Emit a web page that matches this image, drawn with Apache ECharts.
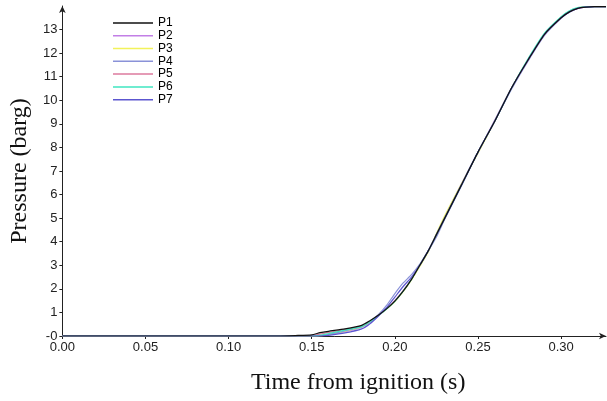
<!DOCTYPE html>
<html>
<head>
<meta charset="utf-8">
<script src="https://cdn.jsdelivr.net/npm/echarts@6/dist/echarts.min.js"></script>
<style>
	html, body {margin: 0; padding: 0; background: #fff;}
	#main {width: 607px; height: 401px;}
</style>
</head>
<body>
<div id="main"></div>
<script>
// time from ignition (s)
var times = [0, 0.13, 0.14, 0.15, 0.155, 0.16, 0.17, 0.18, 0.185, 0.19, 0.195, 0.2, 0.205, 0.21, 0.215, 0.22, 0.225, 0.23, 0.24, 0.25, 0.26, 0.27, 0.28, 0.29, 0.3, 0.305, 0.31, 0.315, 0.32, 0.327]
// pressure (barg) per sensor
var p1 = [0, 0, 0.02, 0.05, 0.14, 0.2, 0.3, 0.45, 0.65, 0.88, 1.15, 1.48, 1.9, 2.4, 3.0, 3.6, 4.3, 5.0, 6.4, 7.8, 9.1, 10.5, 11.7, 12.8, 13.5, 13.75, 13.9, 13.95, 13.97, 13.97]
var p2 = [0, 0, 0, 0, 0.01, 0.05, 0.18, 0.36, 0.58, 0.86, 1.15, 1.5, 1.92, 2.42, 3.0, 3.62, 4.3, 5.05, 6.45, 7.8, 9.15, 10.5, 11.7, 12.8, 13.5, 13.76, 13.9, 13.95, 13.97, 13.97]
var p3 = [0, 0, 0, 0, 0.01, 0.06, 0.2, 0.38, 0.6, 0.86, 1.14, 1.46, 1.88, 2.38, 2.95, 3.55, 4.35, 5.1, 6.45, 7.75, 9.1, 10.5, 11.72, 12.82, 13.52, 13.78, 13.92, 13.96, 13.97, 13.97]
var p4 = [0, 0, 0, 0, 0.01, 0.07, 0.22, 0.4, 0.62, 0.9, 1.3, 1.8, 2.25, 2.6, 3.05, 3.6, 4.2, 4.95, 6.35, 7.8, 9.1, 10.45, 11.65, 12.75, 13.48, 13.74, 13.9, 13.95, 13.97, 13.97]
var p5 = [0, 0, 0, 0.02, 0.08, 0.15, 0.27, 0.42, 0.62, 0.87, 1.15, 1.5, 1.92, 2.42, 3.0, 3.6, 4.3, 5.0, 6.4, 7.8, 9.1, 10.5, 11.7, 12.8, 13.5, 13.76, 13.9, 13.95, 13.97, 13.97]
var p6 = [0, 0, 0, 0, 0.03, 0.1, 0.25, 0.4, 0.6, 0.86, 1.14, 1.47, 1.9, 2.4, 3.0, 3.6, 4.3, 5.0, 6.4, 7.8, 9.1, 10.5, 11.75, 12.85, 13.55, 13.8, 13.93, 13.96, 13.97, 13.97]
var p7 = [0, 0, 0, 0, 0, 0.03, 0.13, 0.3, 0.52, 0.84, 1.2, 1.65, 2.1, 2.5, 3.0, 3.6, 4.3, 5.0, 6.4, 7.8, 9.1, 10.5, 11.7, 12.8, 13.5, 13.75, 13.9, 13.95, 13.97, 13.97]

var names = ['P1', 'P2', 'P3', 'P4', 'P5', 'P6', 'P7']
var colors = ['#111111', '#c27fe6', '#f2f25a', '#8a92d8', '#dc7a9e', '#3fe6c0', '#5c56d0']
var xTicks = [0, 0.05, 0.1, 0.15, 0.2, 0.25, 0.3]
var yTicks = [0, 1, 2, 3, 4, 5, 6, 7, 8, 9, 10, 11, 12, 13]

function pairs (vals) {
	return times.map(function (t, i) { return [t, vals[i]] })
}

var allData = [p1, p2, p3, p4, p5, p6, p7]
var series = names.map(function (n, i) {
	return {
		name: n,
		type: 'line',
		data: pairs(allData[i]),
		showSymbol: false,
		smooth: 0.2,
		z: i === 0 ? 5 : 2,
		lineStyle: {width: 1.2, color: colors[i]},
		itemStyle: {color: colors[i]}
	}
})

var axisFont = {fontFamily: 'Liberation Sans, Arial, sans-serif', fontSize: 13, color: '#222'}

var option = {
	animation: false,
	backgroundColor: '#fff',
	grid: {left: 62, right: 1, top: 6, bottom: 65},
	legend: {
		orient: 'vertical',
		left: 108,
		top: 11.5,
		icon: 'rect',
		itemWidth: 40,
		itemHeight: 1.5,
		itemGap: 0,
		data: names,
		textStyle: {fontFamily: 'Liberation Sans, Arial, sans-serif', fontSize: 12, color: '#000', lineHeight: 12.8}
	},
	xAxis: {
		type: 'value',
		min: 0,
		max: 0.327,
		name: 'Time from ignition (s)',
		nameLocation: 'middle',
		nameGap: 35,
		nameTextStyle: {fontFamily: 'Liberation Serif, Times New Roman, serif', fontSize: 24, color: '#111', padding: [0, 0, 0, 48]},
		splitLine: {show: false},
		axisLine: {lineStyle: {color: '#222', width: 1}, symbol: ['none', 'arrow'], symbolSize: [5, 7]},
		axisTick: {customValues: xTicks, length: 3, lineStyle: {color: '#222'}},
		axisLabel: Object.assign({
			customValues: xTicks,
			margin: 5,
			formatter: function (v) { return v.toFixed(2) }
		}, axisFont)
	},
	yAxis: {
		type: 'value',
		min: 0,
		max: 14,
		name: 'Pressure (barg)',
		nameLocation: 'middle',
		nameGap: 27,
		nameTextStyle: {fontFamily: 'Liberation Serif, Times New Roman, serif', fontSize: 24, color: '#111'},
		splitLine: {show: false},
		axisLine: {show: true, lineStyle: {color: '#222', width: 1}, symbol: ['none', 'arrow'], symbolSize: [5, 7]},
		axisTick: {show: true, customValues: yTicks, length: 3, lineStyle: {color: '#222'}},
		axisLabel: Object.assign({
			customValues: yTicks,
			margin: 5,
			formatter: function (v) { return v === 0 ? '-0' : String(v) }
		}, axisFont)
	},
	series: series
}

var myChart = echarts.init(document.getElementById('main'))
myChart.setOption(option)
</script>
</body>
</html>
